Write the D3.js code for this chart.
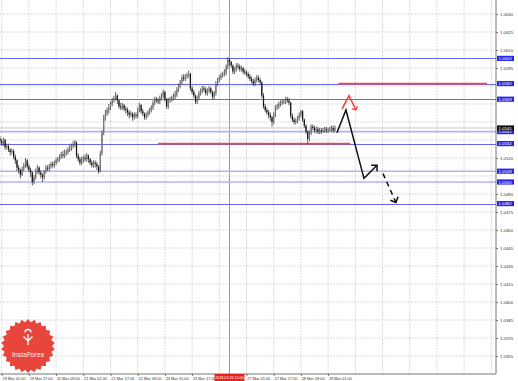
<!DOCTYPE html>
<html>
<head>
<meta charset="utf-8">
<script src="https://cdn.jsdelivr.net/npm/d3@7"></script>
<style>
  body { margin: 0; background: #fff; }
  text { font-family: "Liberation Sans", Arial, sans-serif; }
</style>
</head>
<body>
<div id="chart"></div>
<script>
// hourly bars, index 0 = 19 Mar 00:00 (weekend skipped)
var firstOpen = 1.0536;
var closes = [
  1.0534,1.0532,1.0535,1.0529,1.0530,1.0527,1.0525,1.0526,1.0521,1.0518,
  1.0512,1.0510,1.0506,1.0511,1.0514,1.0518,1.0513,1.0510,1.0508,1.0500,
  1.0504,1.0509,1.0512,1.0508,1.0506,1.0504,1.0509,1.0512,1.0511,1.0513,
  1.0515,1.0514,1.0516,1.0518,1.0519,1.0521,1.0523,1.0522,1.0524,1.0525,
  1.0527,1.0528,1.0530,1.0531,1.0533,1.0522,1.0519,1.0516,1.0518,1.0520,
  1.0519,1.0522,1.0519,1.0516,1.0514,1.0516,1.0515,1.0513,1.0509,1.0524,
  1.0541,1.0554,1.0557,1.0560,1.0562,1.0565,1.0568,1.0570,1.0572,1.0568,
  1.0563,1.0562,1.0564,1.0561,1.0560,1.0558,1.0556,1.0557,1.0554,1.0556,
  1.0555,1.0560,1.0564,1.0559,1.0557,1.0554,1.0556,1.0558,1.0560,1.0562,
  1.0566,1.0569,1.0568,1.0567,1.0570,1.0572,1.0575,1.0569,1.0563,1.0568,
  1.0569,1.0570,1.0571,1.0573,1.0577,1.0580,1.0583,1.0587,1.0586,1.0588,
  1.0589,1.0590,1.0578,1.0575,1.0572,1.0567,1.0570,1.0574,1.0576,1.0578,
  1.0577,1.0574,1.0576,1.0578,1.0575,1.0571,1.0574,1.0582,1.0585,1.0587,
  1.0589,1.0590,1.0591,1.0596,1.0602,1.0600,1.0597,1.0592,1.0594,1.0597,
  1.0596,1.0594,1.0595,1.0592,1.0591,1.0590,1.0588,1.0586,1.0584,1.0582,
  1.0585,1.0587,1.0585,1.0583,1.0572,1.0563,1.0560,1.0558,1.0556,1.0554,
  1.0550,1.0556,1.0562,1.0563,1.0565,1.0566,1.0567,1.0567,1.0569,1.0568,
  1.0566,1.0555,1.0552,1.0550,1.0551,1.0553,1.0556,1.0559,1.0552,1.0547,
  1.0542,1.0536,1.0541,1.0546,1.0545,1.0543,1.0544,1.0542,1.0543,1.0542,
  1.0543,1.0544,1.0543,1.0543,1.0544,1.0545,1.0543,1.0545
];
var highs = [
  1.0538,1.0536,1.0537,1.0536,1.0532,1.0532,1.0528,1.0528,1.0527,1.0523,
  1.0519,1.0514,1.0511,1.0513,1.0516,1.0520,1.0519,1.0515,1.0512,1.0509,
  1.0506,1.0511,1.0514,1.0513,1.0510,1.0507,1.0510,1.0514,1.0514,1.0515,
  1.0517,1.0517,1.0518,1.0520,1.0521,1.0523,1.0525,1.0526,1.0527,1.0527,
  1.0529,1.0531,1.0532,1.0534,1.0535,1.0534,1.0524,1.0521,1.0521,1.0522,
  1.0523,1.0524,1.0523,1.0520,1.0518,1.0518,1.0518,1.0517,1.0514,1.0526,
  1.0543,1.0556,1.0560,1.0562,1.0565,1.0567,1.0570,1.0572,1.0575,1.0573,
  1.0569,1.0566,1.0566,1.0565,1.0563,1.0562,1.0560,1.0559,1.0558,1.0558,
  1.0558,1.0562,1.0566,1.0565,1.0561,1.0558,1.0558,1.0560,1.0562,1.0564,
  1.0568,1.0571,1.0571,1.0570,1.0572,1.0574,1.0577,1.0576,1.0570,1.0570,
  1.0571,1.0572,1.0574,1.0576,1.0579,1.0582,1.0585,1.0589,1.0590,1.0590,
  1.0591,1.0593,1.0591,1.0580,1.0577,1.0573,1.0572,1.0576,1.0578,1.0580,
  1.0580,1.0579,1.0578,1.0580,1.0579,1.0576,1.0576,1.0584,1.0587,1.0589,
  1.0591,1.0592,1.0594,1.0598,1.0604,1.0603,1.0601,1.0598,1.0596,1.0599,
  1.0599,1.0598,1.0597,1.0596,1.0594,1.0593,1.0592,1.0590,1.0588,1.0586,
  1.0587,1.0589,1.0589,1.0587,1.0584,1.0574,1.0565,1.0562,1.0560,1.0558,
  1.0555,1.0558,1.0564,1.0565,1.0567,1.0568,1.0569,1.0569,1.0571,1.0571,
  1.0570,1.0567,1.0557,1.0554,1.0553,1.0555,1.0558,1.0560,1.0560,1.0553,
  1.0548,1.0543,1.0543,1.0548,1.0548,1.0547,1.0546,1.0546,1.0545,1.0545,
  1.0545,1.0546,1.0546,1.0545,1.0546,1.0547,1.0547,1.0547
];
var lows = [
  1.0532,1.0530,1.0530,1.0527,1.0527,1.0525,1.0522,1.0523,1.0519,1.0515,
  1.0509,1.0507,1.0503,1.0505,1.0509,1.0512,1.0511,1.0508,1.0504,1.0497,
  1.0498,1.0502,1.0507,1.0506,1.0503,1.0500,1.0502,1.0507,1.0509,1.0509,
  1.0511,1.0512,1.0512,1.0514,1.0516,1.0517,1.0519,1.0520,1.0520,1.0522,
  1.0523,1.0525,1.0526,1.0528,1.0529,1.0520,1.0517,1.0514,1.0514,1.0516,
  1.0517,1.0517,1.0516,1.0514,1.0512,1.0512,1.0512,1.0510,1.0507,1.0508,
  1.0522,1.0539,1.0551,1.0555,1.0557,1.0560,1.0563,1.0566,1.0568,1.0565,
  1.0561,1.0560,1.0560,1.0559,1.0557,1.0555,1.0553,1.0554,1.0551,1.0552,
  1.0553,1.0553,1.0558,1.0557,1.0555,1.0552,1.0552,1.0554,1.0556,1.0558,
  1.0560,1.0564,1.0566,1.0565,1.0565,1.0568,1.0570,1.0567,1.0561,1.0561,
  1.0566,1.0567,1.0568,1.0569,1.0571,1.0575,1.0578,1.0581,1.0584,1.0584,
  1.0586,1.0587,1.0576,1.0573,1.0570,1.0565,1.0565,1.0568,1.0572,1.0574,
  1.0575,1.0572,1.0572,1.0574,1.0573,1.0569,1.0569,1.0572,1.0580,1.0583,
  1.0585,1.0587,1.0588,1.0589,1.0594,1.0597,1.0595,1.0590,1.0590,1.0592,
  1.0594,1.0592,1.0592,1.0590,1.0589,1.0588,1.0586,1.0584,1.0582,1.0580,
  1.0580,1.0583,1.0583,1.0581,1.0570,1.0561,1.0558,1.0556,1.0553,1.0551,
  1.0546,1.0548,1.0554,1.0560,1.0561,1.0563,1.0564,1.0565,1.0565,1.0566,
  1.0564,1.0553,1.0550,1.0548,1.0548,1.0549,1.0551,1.0554,1.0550,1.0545,
  1.0540,1.0532,1.0534,1.0539,1.0543,1.0541,1.0541,1.0540,1.0540,1.0540,
  1.0541,1.0541,1.0541,1.0541,1.0542,1.0542,1.0541,1.0542
];

var timeTicks = [1, 17, 33, 49, 65, 81, 97, 113, 129, 145, 161, 177, 193];
var timeLabels = ["19 Mar 01:00", "19 Mar 17:00", "20 Mar 09:00", "21 Mar 01:00",
  "21 Mar 17:00", "22 Mar 09:00", "23 Mar 01:00", "23 Mar 17:00", "26 Mar 09:00",
  "27 Mar 01:00", "27 Mar 17:00", "28 Mar 09:00", "29 Mar 01:00"];
var priceTicks = [1.0640, 1.0625, 1.0610, 1.0595, 1.0580, 1.0565, 1.0550, 1.0535,
  1.0520, 1.0505, 1.0490, 1.0475, 1.0460, 1.0445, 1.0430, 1.0415, 1.0400, 1.0385,
  1.0370, 1.0355];

// horizontal levels
var strongLevels = [1.0603, 1.0582, 1.0569, 1.0532, 1.0482];
var weakLevels = [1.0542, 1.0509, 1.0500];
var currentPrice = 1.0545;
// red segments: [from bar, to bar, price]
var redLevels = [[199, 286.5, 1.0582], [93, 206, 1.0532]];
var markerBar = 135;
var markerLabel = "2018.03.26 15:00";

// forecast arrows: [bar, price]
var mainPath = [[198.2, 1.0541], [203.5, 1.0560], [214.1, 1.0503], [221.8, 1.0514]];
var altPath = [[201.2, 1.0561], [205.3, 1.0572], [209.4, 1.0560]];
var nextPath = [[225.3, 1.0507], [232.9, 1.0483]];

var width = 518, height = 381,
    plotW = 496, plotH = 374;

var svg = d3.select("#chart")
  .append("svg")
  .attr("width", width)
  .attr("height", height);

svg.append("rect").attr("width", width).attr("height", height).style("fill", "#fff");

var x = d3.scaleLinear().domain([0, 290]).range([0, 493]);
var y = d3.scaleLinear().domain([1.0640, 1.0355]).range([14, 356]);
var fmt = d3.format(".4f");

var tagPrices = strongLevels.concat(weakLevels, [currentPrice]);
var markerHalf = 15;

var defs = svg.append("defs");
function arrowHead(id, color, size) {
  defs.append("marker")
    .attr("id", id)
    .attr("markerUnits", "userSpaceOnUse")
    .attr("viewBox", "-10 -10 20 20")
    .attr("markerWidth", size * 2).attr("markerHeight", size * 2)
    .attr("refX", 0).attr("refY", 0)
    .attr("orient", "auto")
    .append("path")
    .attr("d", "M-6,-6L0,0L-6,6")
    .style("fill", "none").style("stroke", color).style("stroke-width", 2.2);
}
arrowHead("headBlack", "#111", 7);
arrowHead("headRed", "#f03c3c", 5);

// grid
var grid = svg.append("g");
grid.selectAll(".hg").data(priceTicks).enter().append("line")
  .attr("x1", 0).attr("x2", plotW)
  .attr("y1", d => y(d)).attr("y2", d => y(d))
  .style("stroke", "#dadada").style("stroke-dasharray", "2,1");
grid.selectAll(".vg").data(d3.range(1, 292, 16)).enter().append("line")
  .attr("x1", d => x(d)).attr("x2", d => x(d))
  .attr("y1", 0).attr("y2", plotH)
  .style("stroke", "#dadada").style("stroke-dasharray", "2,1");

// marker vertical line
svg.append("line")
  .attr("x1", x(markerBar)).attr("x2", x(markerBar))
  .attr("y1", 0).attr("y2", plotH)
  .style("stroke", "#f07878").style("stroke-width", 1);

// levels
svg.append("line")
  .attr("x1", 0).attr("x2", plotW)
  .attr("y1", y(currentPrice)).attr("y2", y(currentPrice))
  .style("stroke", "#c8c8c8").style("stroke-width", 1);
svg.selectAll(".weak").data(weakLevels).enter().append("line")
  .attr("x1", 0).attr("x2", plotW)
  .attr("y1", d => y(d)).attr("y2", d => y(d))
  .style("stroke", "#b2b4f4").style("stroke-width", 1.6);
svg.selectAll(".strong").data(strongLevels).enter().append("line")
  .attr("x1", 0).attr("x2", plotW)
  .attr("y1", d => Math.round(y(d)) + 0.5).attr("y2", d => Math.round(y(d)) + 0.5)
  .style("stroke", "#6666f0").style("stroke-width", 1);
svg.selectAll(".red").data(redLevels).enter().append("line")
  .attr("x1", d => x(d[0])).attr("x2", d => x(d[1]))
  .attr("y1", d => y(d[2])).attr("y2", d => y(d[2]))
  .style("stroke", "#f04848").style("stroke-width", 1.8);

// candles
var candles = svg.append("g");
closes.forEach(function(c, i) {
  var o = i === 0 ? firstOpen : closes[i - 1];
  candles.append("line")
    .attr("x1", x(i)).attr("x2", x(i))
    .attr("y1", y(highs[i])).attr("y2", y(lows[i]))
    .style("stroke", "#3a3a3a").style("stroke-width", 0.8);
  candles.append("rect")
    .attr("x", x(i) - 0.6)
    .attr("y", y(Math.max(o, c)))
    .attr("width", 1.2)
    .attr("height", Math.max(0.6, Math.abs(y(o) - y(c))))
    .style("fill", c >= o ? "#777" : "#111");
});

// forecast arrows
var line = d3.line().x(d => x(d[0])).y(d => y(d[1]));
svg.append("path").attr("d", line(mainPath))
  .style("fill", "none").style("stroke", "#111").style("stroke-width", 1.5)
  .attr("marker-end", "url(#headBlack)");
svg.append("path").attr("d", line(altPath))
  .style("fill", "none").style("stroke", "#f03c3c").style("stroke-width", 1.5)
  .attr("marker-end", "url(#headRed)");
svg.append("path").attr("d", line(nextPath))
  .style("fill", "none").style("stroke", "#111").style("stroke-width", 1.5)
  .style("stroke-dasharray", "5,4")
  .attr("marker-end", "url(#headBlack)");

// axes frame
svg.append("line").attr("x1", plotW).attr("x2", plotW).attr("y1", 0).attr("y2", plotH)
  .style("stroke", "#777");
svg.append("line").attr("x1", 0).attr("x2", plotW).attr("y1", plotH).attr("y2", plotH)
  .style("stroke", "#777");

// price axis (labels hidden behind the price tags are skipped)
var shownTicks = priceTicks.filter(p => tagPrices.every(t => Math.abs(y(p) - y(t)) > 6));
var yAxis = svg.append("g")
  .attr("transform", "translate(" + plotW + ",0)")
  .call(d3.axisRight(y).tickValues(shownTicks).tickSize(2).tickPadding(2).tickFormat(fmt));
yAxis.select(".domain").remove();
yAxis.selectAll("line").style("stroke", "#777");
yAxis.selectAll("text").attr("font-size", 4.3).style("fill", "#333");

// time axis (the label sitting under the marker tag is covered)
var xAxis = svg.append("g")
  .attr("transform", "translate(0," + plotH + ")")
  .call(d3.axisBottom(x).tickValues(timeTicks).tickSize(2).tickPadding(1)
    .tickFormat(function(d, i) {
      var off = x(d) - x(markerBar);
      return (off > -markerHalf && off < markerHalf) ? "" : timeLabels[i];
    }));
xAxis.select(".domain").remove();
xAxis.selectAll("line").style("stroke", "#777");
xAxis.selectAll("text").attr("font-size", 3.9).attr("text-anchor", "start")
  .attr("dx", 0.3).style("fill", "#333");

// price tags
var tags = svg.append("g");
tagPrices.forEach(function(p) {
  var isCurrent = p === currentPrice;
  tags.append("rect").attr("x", plotW + 1).attr("y", y(p) - 2.6)
    .attr("width", 17).attr("height", 5.2).style("fill", isCurrent ? "#111" : "#2626e8");
  tags.append("text").attr("x", plotW + 2.5).attr("y", y(p) + 1.6)
    .attr("font-size", 4.3).style("fill", "#fff").text(fmt(p));
});

// marker time tag
svg.append("rect").attr("x", x(markerBar) - markerHalf).attr("y", plotH)
  .attr("width", markerHalf * 2).attr("height", 7).style("fill", "#e82020");
svg.append("text").attr("x", x(markerBar)).attr("y", plotH + 5)
  .attr("text-anchor", "middle").attr("font-size", 3.7).style("fill", "#fff")
  .text(markerLabel);

// logo seal
var logo = svg.append("g").attr("transform", "translate(28,346)");
var teeth = 26;
var seal = d3.range(teeth * 2).map(function(i) {
  var a = i * Math.PI / teeth, r = i % 2 ? 24 : 27;
  return [r * Math.sin(a), -r * Math.cos(a)];
});
logo.append("path").attr("d", d3.line()(seal) + "Z").style("fill", "#e8463c");
logo.append("path")
  .attr("d", "M0,-1V-12M-4.5,-9.5L0,-5L4.5,-9.5M-3,-13.5A3,3 0 0 1 3,-13.5")
  .style("fill", "none").style("stroke", "#fff").style("stroke-width", 1.3);
logo.append("text").attr("y", 11).attr("text-anchor", "middle")
  .attr("font-size", 6.6).style("fill", "#fff")
  .style("font-family", "'Open Sans', sans-serif").text("InstaForex");
</script>
</body>
</html>
